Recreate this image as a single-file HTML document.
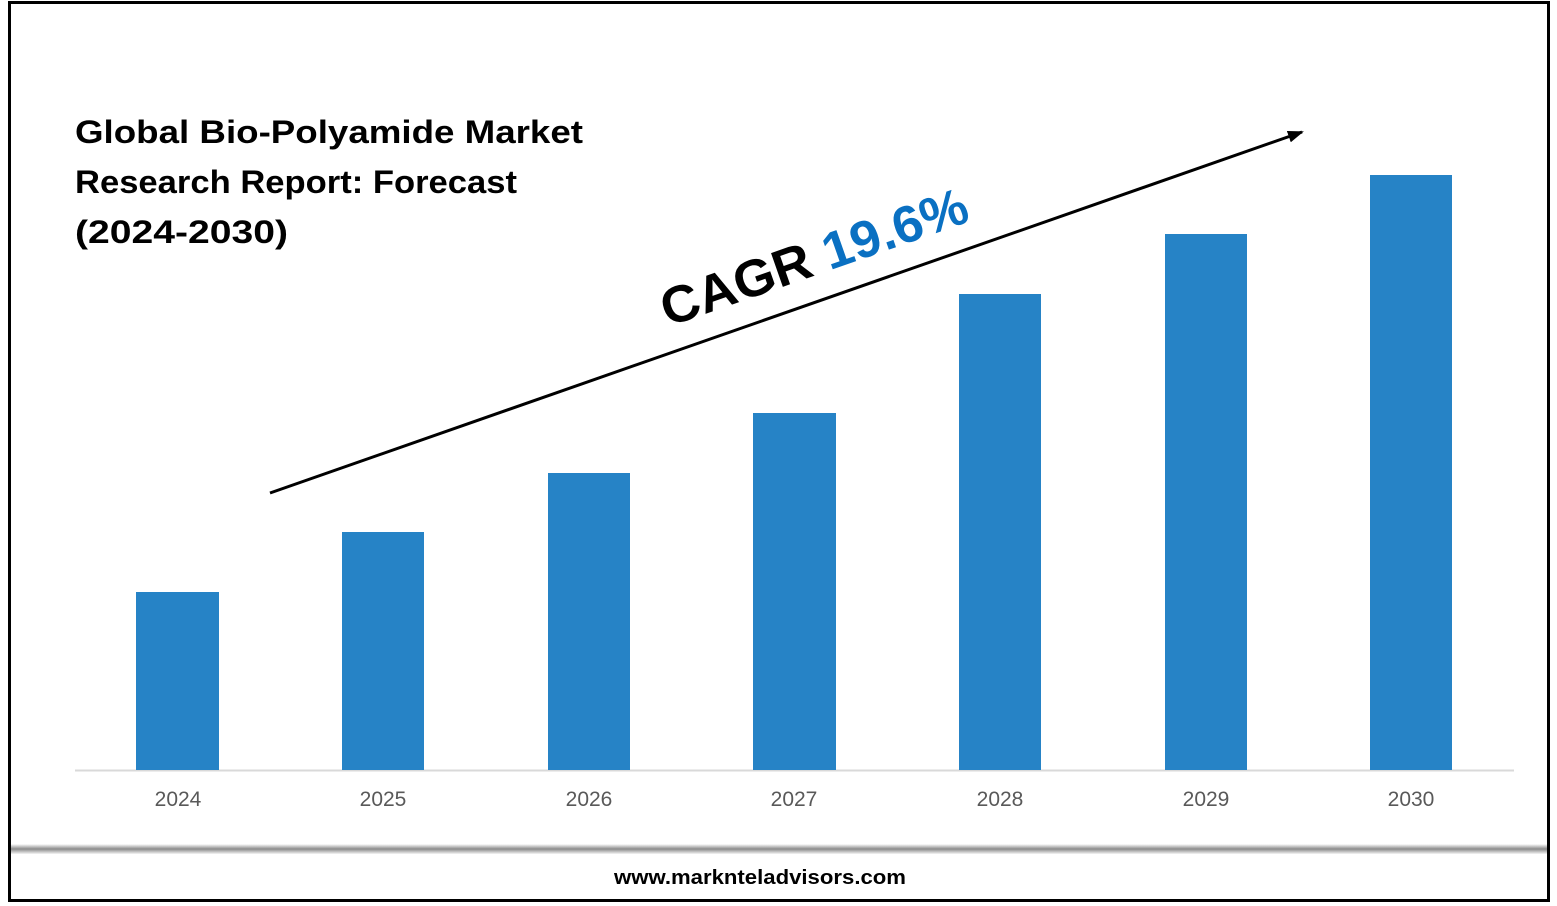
<!DOCTYPE html>
<html><head><meta charset="utf-8"><style>
html,body{margin:0;padding:0;background:#fff;}
svg{display:block;}
</style></head><body>
<svg width="1557" height="906" xmlns="http://www.w3.org/2000/svg">
<defs>
<linearGradient id="sh" x1="0" y1="0" x2="0" y2="1">
<stop offset="0" stop-color="#fff"/><stop offset="0.5" stop-color="#8a8a8a"/><stop offset="1" stop-color="#f4f4f4"/>
</linearGradient>
<marker id="ah" markerWidth="16" markerHeight="12" refX="14" refY="6" orient="auto" markerUnits="userSpaceOnUse">
<path d="M0,0 L16,6 L0,12 Z" fill="#000"/></marker>
</defs>
<rect x="0" y="0" width="1557" height="906" fill="#fff"/>
<rect x="9.5" y="2.5" width="1539" height="898" fill="none" stroke="#000" stroke-width="3"/>
<rect x="11" y="844" width="1536" height="10" fill="url(#sh)"/>
<g font-family="'Liberation Sans',sans-serif" font-weight="bold" font-size="32" fill="#000">
<text x="75" y="143" textLength="508" lengthAdjust="spacingAndGlyphs">Global Bio-Polyamide Market</text>
<text x="75" y="193" textLength="442" lengthAdjust="spacingAndGlyphs">Research Report: Forecast</text>
<text x="75" y="243" textLength="213" lengthAdjust="spacingAndGlyphs">(2024-2030)</text>
</g>
<line x1="75" y1="770.5" x2="1514" y2="770.5" stroke="#d9d9d9" stroke-width="2"/>
<g fill="#2683C6">
<rect x="136" y="592" width="83" height="178"/>
<rect x="342" y="532" width="82" height="238"/>
<rect x="548" y="473" width="82" height="297"/>
<rect x="753" y="413" width="83" height="357"/>
<rect x="959" y="294" width="82" height="476"/>
<rect x="1165" y="234" width="82" height="536"/>
<rect x="1370" y="175" width="82" height="595"/>
</g>
<g font-family="'Liberation Sans',sans-serif" font-size="21" fill="#595959" text-anchor="middle">
<text x="178" y="806">2024</text><text x="383" y="806">2025</text><text x="589" y="806">2026</text>
<text x="794" y="806">2027</text><text x="1000" y="806">2028</text><text x="1206" y="806">2029</text>
<text x="1411" y="806">2030</text>
</g>
<line x1="270" y1="493" x2="1302" y2="132" stroke="#000" stroke-width="3" marker-end="url(#ah)"/>
<g transform="translate(668,327) rotate(-19.3)" font-family="'Liberation Sans',sans-serif" font-weight="bold" font-size="52">
<text x="0" y="0" textLength="322" lengthAdjust="spacingAndGlyphs"><tspan fill="#000">CAGR </tspan><tspan fill="#0A70C2">19.6%</tspan></text>
</g>
<text x="760" y="884" text-anchor="middle" font-family="'Liberation Sans',sans-serif" font-weight="bold" font-size="20" fill="#000" textLength="292" lengthAdjust="spacingAndGlyphs">www.marknteladvisors.com</text>
</svg>
</body></html>
